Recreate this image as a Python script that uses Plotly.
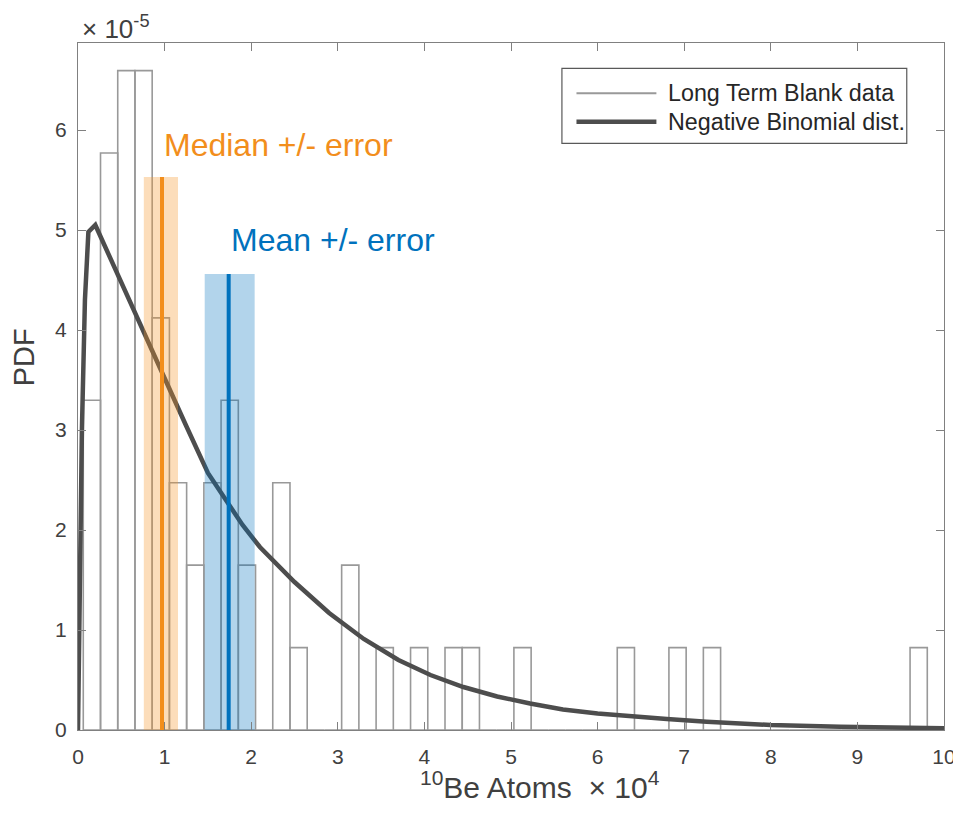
import plotly.graph_objects as go

# ---------------- data (x in units of 1e4 atoms, y in units of 1e-5) ----------------
bin_start = 0.061
bin_width = 0.1989
bin_counts = [4, 7, 8, 8, 5, 3, 2, 3, 4, 2, 0, 3, 1, 0, 0, 2, 0, 1, 0, 1, 0, 1, 1, 0, 0,
              1, 0, 0, 0, 0, 0, 1, 0, 0, 1, 0, 1, 0, 0, 0, 0, 0, 0, 0, 0, 0, 0, 0, 1]

nb_x = [0, 0.02, 0.045, 0.08, 0.12, 0.2, 0.5, 0.75, 1.0, 1.25, 1.5, 1.7, 1.9, 2.1, 2.5,
        2.9, 3.3, 3.7, 4.07, 4.45, 4.84, 5.22, 5.6, 6.0, 6.4, 6.8, 7.26, 8.0, 8.8, 9.4, 10]
nb_y = [0, 1.5, 3.0, 4.3, 4.98, 5.05, 4.47, 3.99, 3.52, 3.04, 2.57, 2.3, 2.05, 1.83, 1.48,
        1.17, 0.91, 0.70, 0.55, 0.43, 0.335, 0.265, 0.205, 0.165, 0.133, 0.11, 0.083, 0.05,
        0.033, 0.024, 0.017]

median_val = 0.97
median_lo, median_hi = 0.76, 1.155
median_top = 5.53

mean_val = 1.74
mean_lo, mean_hi = 1.463, 2.04
mean_top = 4.56

x_ticks = list(range(0, 11))
y_ticks = list(range(0, 7))

# ---------------- derived ----------------
n_total = sum(bin_counts)
centers = [bin_start + bin_width * (k + 0.5) for k in range(len(bin_counts))]
pdf = [c / (n_total * bin_width * 1e4) * 1e5 for c in bin_counts]

GRAY = "#999999"
DARK = "#4d4d4d"
ORANGE = "#F28E1C"
BLUE = "#0072BD"
AXIS = "#808080"
TXT = "#404040"
FONT = "Liberation Sans, Arial, sans-serif"

fig = go.Figure()

fig.add_trace(go.Bar(
    x=centers, y=pdf, width=bin_width,
    marker=dict(color="rgba(0,0,0,0)", line=dict(color=GRAY, width=1.6)),
    name="Long Term Blank data", showlegend=False, hoverinfo="x+y"))

fig.add_trace(go.Scatter(
    x=nb_x, y=nb_y, mode="lines", line=dict(color=DARK, width=4.5),
    name="Negative Binomial dist.", showlegend=False))

# error bands
fig.add_trace(go.Scatter(
    x=[median_lo, median_hi, median_hi, median_lo, median_lo],
    y=[0, 0, median_top, median_top, 0], mode="lines", fill="toself",
    fillcolor="rgba(247,150,40,0.32)", line=dict(width=0), showlegend=False))
fig.add_trace(go.Scatter(
    x=[mean_lo, mean_hi, mean_hi, mean_lo, mean_lo],
    y=[0, 0, mean_top, mean_top, 0], mode="lines", fill="toself",
    fillcolor="rgba(0,114,189,0.30)", line=dict(width=0), showlegend=False))

fig.add_trace(go.Scatter(
    x=[median_val, median_val], y=[0, median_top], mode="lines",
    line=dict(color=ORANGE, width=4), showlegend=False))
fig.add_trace(go.Scatter(
    x=[mean_val, mean_val], y=[0, mean_top], mode="lines",
    line=dict(color=BLUE, width=4), showlegend=False))

axis_common = dict(
    showline=True, linecolor=AXIS, linewidth=1.2, mirror="ticks",
    ticks="inside", ticklen=8, tickcolor=AXIS, tickwidth=1.2,
    showgrid=False, zeroline=False, automargin=False,
    tickfont=dict(family=FONT, size=21, color=TXT))

# the page body has an 8px default margin; the figure is sized to fit the 961x822 window
fig.update_layout(
    width=953, height=814,
    margin=dict(l=70, r=17, t=35, b=92, autoexpand=False),
    paper_bgcolor="white", plot_bgcolor="white",
    font=dict(family=FONT, color=TXT),
    xaxis=dict(range=[0, 10], tickvals=x_ticks, ticktext=[str(t) for t in x_ticks],
               ticklabelstandoff=8, **axis_common),
    yaxis=dict(range=[0, 6.87], tickvals=y_ticks, ticktext=[str(t) for t in y_ticks],
               ticklabelstandoff=6, **axis_common),
    showlegend=False,
)

annotations = [
    dict(x=median_val, y=5.85, xref="x", yref="y", text="Median +/- error",
         xanchor="left", yanchor="middle", showarrow=False,
         font=dict(family=FONT, size=32, color=ORANGE)),
    dict(x=mean_val, y=4.9, xref="x", yref="y", text="Mean +/- error",
         xanchor="left", yanchor="middle", showarrow=False,
         font=dict(family=FONT, size=32, color=BLUE)),
    dict(x=0.002, y=1.022, xref="paper", yref="paper", text="× 10<sup>-5</sup>",
         xanchor="left", yanchor="middle", showarrow=False,
         font=dict(family=FONT, size=26, color=TXT)),
    dict(x=0.533, y=-0.08, xref="paper", yref="paper",
         text="<sup>10</sup>Be Atoms  × 10<sup>4</sup>",
         xanchor="center", yanchor="middle", showarrow=False,
         font=dict(family=FONT, size=30, color=TXT)),
    dict(x=-0.062, y=0.543, xref="paper", yref="paper", text="PDF", textangle=-90,
         xanchor="center", yanchor="middle", showarrow=False,
         font=dict(family=FONT, size=29, color=TXT)),
    # legend text
    dict(x=0.6792, y=0.9268, xref="paper", yref="paper", text="Long Term Blank data",
         xanchor="left", yanchor="middle", showarrow=False,
         font=dict(family=FONT, size=23.3, color="#262626")),
    dict(x=0.6792, y=0.8854, xref="paper", yref="paper", text="Negative Binomial dist.",
         xanchor="left", yanchor="middle", showarrow=False,
         font=dict(family=FONT, size=23.3, color="#262626")),
]

shapes = [
    dict(type="rect", xref="paper", yref="paper", x0=0.5588, x1=0.957, y0=0.854, y1=0.9632,
         line=dict(color="#595959", width=1.2), fillcolor="white", layer="above"),
    dict(type="line", xref="paper", yref="paper", x0=0.5756, x1=0.6679, y0=0.9268, y1=0.9268,
         line=dict(color=GRAY, width=2), layer="above"),
    dict(type="line", xref="paper", yref="paper", x0=0.5756, x1=0.6679, y0=0.8854, y1=0.8854,
         line=dict(color=DARK, width=4.5), layer="above"),
]

fig.update_layout(annotations=annotations, shapes=shapes)

fig.write_html("out.html")
